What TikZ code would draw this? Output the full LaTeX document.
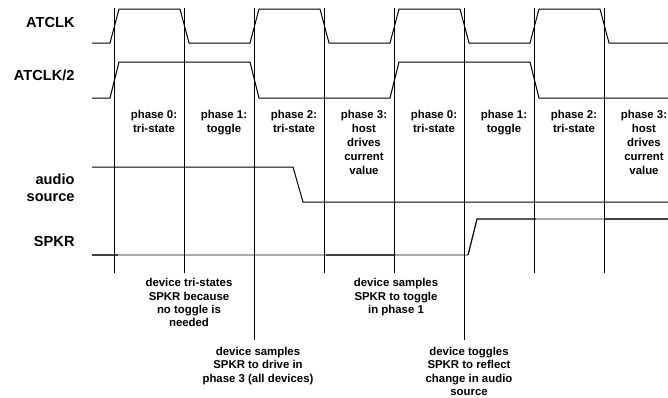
\documentclass[tikz,border=0pt]{standalone}
\usepackage{fontspec}
\setmainfont{Liberation Sans}
\usetikzlibrary{positioning}
\definecolor{cdark}{HTML}{404040}
\definecolor{clight}{HTML}{AAAAAA}
\tikzset{
  every picture/.style={x=1pt, y=-1pt, line width=0.9pt},
  signame/.style={font=\fontsize{14.6}{16.5}\selectfont\bfseries, anchor=east, align=right, inner sep=0pt},
  phase/.style={font=\fontsize{11.4}{14}\selectfont\bfseries, align=center, anchor=north, inner sep=0pt},
  note/.style={font=\fontsize{11.4}{13.4}\selectfont\bfseries, align=center, anchor=north, inner sep=0pt},
  wave/.style={line width=1pt, draw=black},
  spkr/.style={line width=1.5pt, draw=#1},
  spkr/.default=cdark,
  grid/.style={line width=0.9pt, draw=black},
}

\begin{document}
\begin{tikzpicture}
  \useasboundingbox (0,0) rectangle (668,397);
  % signal names
  \node[signame] (nclk)  at (75,22.5) {ATCLK};
  \node[signame] (nclk2) at (75,75.5) {ATCLK/2};
  \node[signame] (naud)  at (75,188) {audio\\source};
  \node[signame] (nspk)  at (75,241) {SPKR};
  % clocks
  \draw[wave] (92,43) foreach \t in {114,254,394,534} { -- (\t-4,43) -- (\t+5,9) -- (\t+66,9) -- (\t+75,43) } -- (668,43);
  \draw[wave] (92,98) foreach \t in {114,394} { -- (\t-4,98) -- (\t+5,62) -- (\t+136,62) -- (\t+145,98) } -- (668,98);
  % audio source
  \draw[wave] (92,167) -- (293,167) -- (303,202) -- (668,202);
  % SPKR: dark = driven, light = tri-stated
  \draw[spkr] (92,255) -- (118,255);
  \draw[spkr=clight] (118,255) -- (326,255);
  \draw[spkr] (326,255) -- (395,255);
  \draw[spkr=clight] (395,255) -- (468,255);
  \draw[spkr=black, line width=1.2pt] (468,255) -- (477,219) -- (536,219);
  \draw[spkr=clight] (536,219) -- (605,219);
  \draw[spkr] (605,219) -- (668,219);
  % phase boundaries
  \foreach \x in {114,184,324,394,534,604} \draw[grid] (\x,8) -- (\x,273);
  \foreach \x in {254,464} \draw[grid] (\x,8) -- (\x,340);
  % phase names
  \foreach \x/\txt [count=\i] in {154/{phase 0:\\tri-state}, 224/{phase 1:\\toggle}, 294/{phase 2:\\tri-state},
      364/{phase 3:\\host\\drives\\current\\value}, 434/{phase 0:\\tri-state}, 504/{phase 1:\\toggle},
      574/{phase 2:\\tri-state}, 644/{phase 3:\\host\\drives\\current\\value}}
    \node[phase] (ph\i) at (\x,110) {\txt};
  % notes
  \node[note] (ntri) at (189,278) {device tri-states\\SPKR because\\no toggle is\\needed};
  \node[note] (ndrv) at (258,346.5) {device samples\\SPKR to drive in\\phase 3 (all devices)};
  \node[note] (nsmp) at (396,278) {device samples\\SPKR to toggle\\in phase 1};
  \node[note] (ntgl) at (469,346.5) {device toggles\\SPKR to reflect\\change in audio\\source};
\end{tikzpicture}
\end{document}
